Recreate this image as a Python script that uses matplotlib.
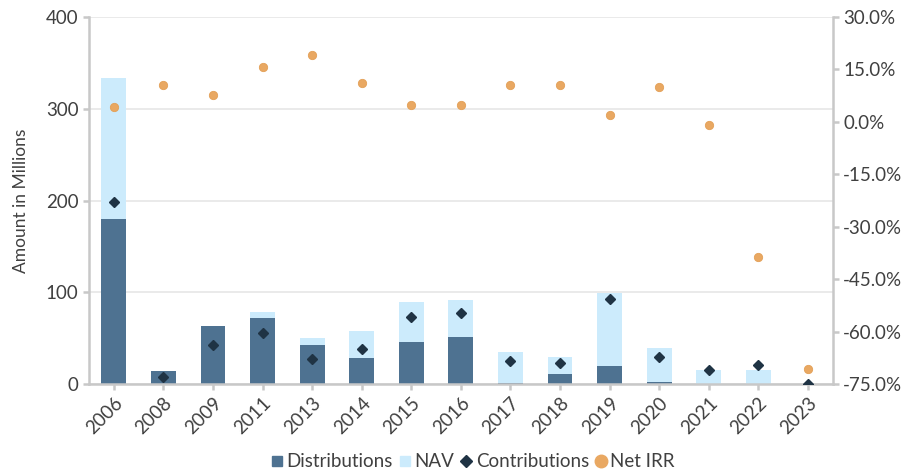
import matplotlib.pyplot as plt
from matplotlib.lines import Line2D
from matplotlib.ticker import FuncFormatter

plt.rcParams['font.family'] = ['Lato', 'DejaVu Sans']

years = ['2006', '2008', '2009', '2011', '2013', '2014', '2015', '2016',
         '2017', '2018', '2019', '2020', '2021', '2022', '2023']
distributions = [180, 14, 63, 72, 42.5, 28.5, 46, 51, 1.5, 11, 19.5, 2, 0, 0, 0]
nav = [153.5, 0, 0, 6.5, 7.5, 29.5, 43.5, 40.5, 33.5, 18.5, 79.5, 37, 15.3, 15.3, 0]
contributions = [198, 8, 42.5, 55.5, 27, 38, 73, 77.5, 25, 23, 92.5, 29.5, 16, 20.5, 0.5]
net_irr = [4.4, 10.6, 7.7, 15.7, 19.1, 11.1, 4.9, 4.9, 10.6, 10.6, 2.0, 10.0, -0.9, -38.6, -70.6]

dist_color = '#4E7291'
nav_color = '#CCEBFC'
contrib_color = '#1F3344'
irr_color = '#E9A862'
axis_grey = '#C8C8C8'
text_color = '#404040'

fig = plt.figure(figsize=(9.09, 4.72), dpi=100)
ax = fig.add_axes([0.098, 0.186, 0.818, 0.778])
ax2 = ax.twinx()

x = range(len(years))
ax.bar(x, distributions, width=0.5, color=dist_color, zorder=2)
ax.bar(x, nav, width=0.5, bottom=distributions, color=nav_color, zorder=2)
ax.plot(x, contributions, linestyle='none', marker='D', markersize=5,
        color=contrib_color, zorder=3)
ax2.plot(x, net_irr, linestyle='none', marker='o', markersize=6,
         color=irr_color, markeredgecolor='#E3A057', markeredgewidth=0.6, zorder=3)

ax.set_xlim(-0.5, len(years) - 0.5)
ax.set_ylim(0, 400)
ax.set_yticks([0, 100, 200, 300, 400])
ax2.set_ylim(-75, 30)
ax2.set_yticks([-75, -60, -45, -30, -15, 0, 15, 30])
ax2.yaxis.set_major_formatter(FuncFormatter(lambda v, p: '{:.1f}%'.format(v)))

ax.grid(axis='y', color='#E6E6E6', linewidth=1.2, zorder=0)
ax.set_axisbelow(True)

ax.set_xticks(list(x))
ax.set_xticklabels(years, rotation=45, ha='right', rotation_mode='anchor')

for a in (ax, ax2):
    a.spines['top'].set_visible(False)
    for s in ['left', 'right', 'bottom']:
        a.spines[s].set_color(axis_grey)
        a.spines[s].set_linewidth(1.8)
    a.tick_params(colors=axis_grey, labelcolor=text_color, labelsize=13.5,
                  length=4, width=1.8)
ax.spines['right'].set_visible(False)
ax2.spines['left'].set_visible(False)
ax2.spines['bottom'].set_visible(False)

ax.set_ylabel('Amount in Millions', fontsize=12.5, color=text_color, labelpad=12)

handles = [
    Line2D([], [], linestyle='none', marker='s', markersize=7, color=dist_color),
    Line2D([], [], linestyle='none', marker='s', markersize=7, color=nav_color),
    Line2D([], [], linestyle='none', marker='D', markersize=6, color=contrib_color),
    Line2D([], [], linestyle='none', marker='o', markersize=9, color=irr_color),
]
labels = ['Distributions', 'NAV', 'Contributions', 'Net IRR']
fig.legend(handles, labels, loc='center', bbox_to_anchor=(0.52, 0.022),
           ncol=4, frameon=False, fontsize=13.5, handlelength=0.7,
           handletextpad=0.15, columnspacing=0.3, labelcolor=text_color)

fig.savefig('out.png', dpi=100)
